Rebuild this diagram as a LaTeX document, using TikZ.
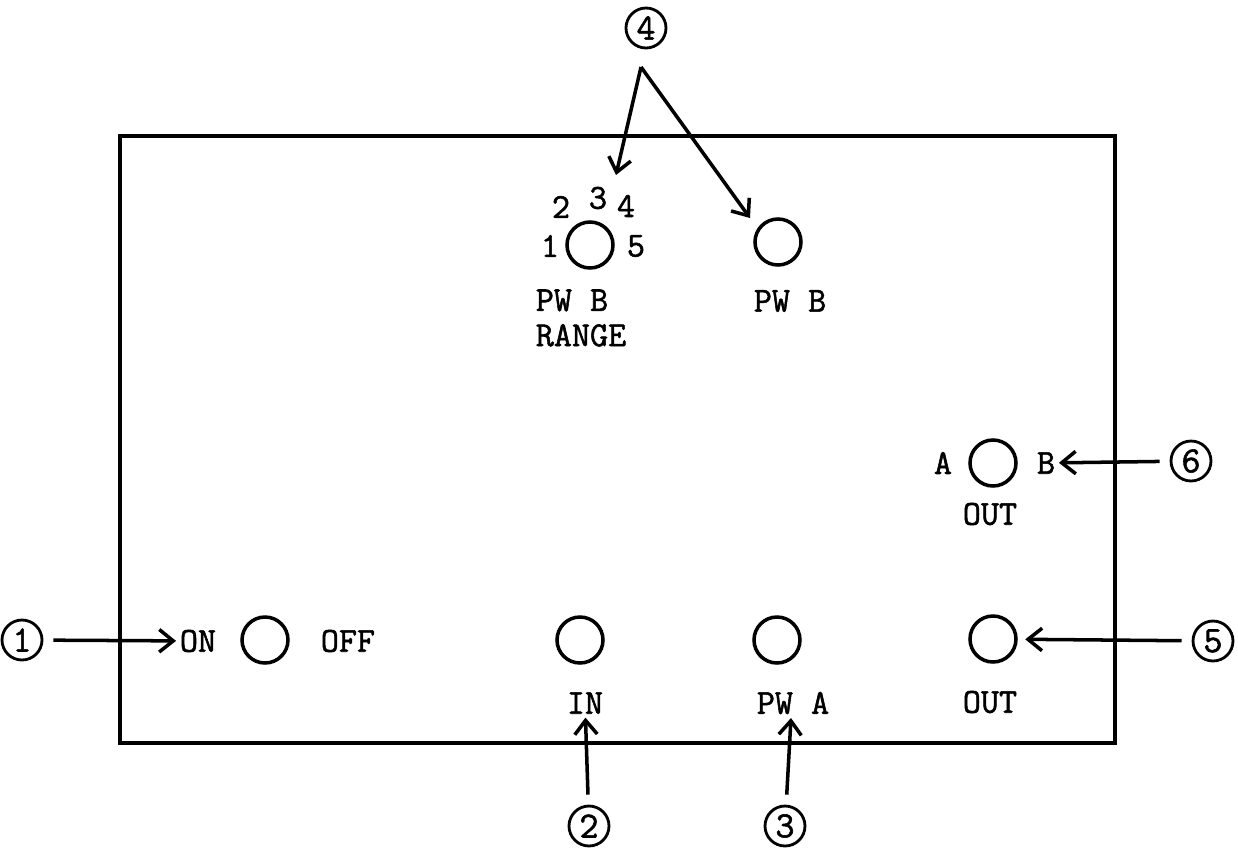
\documentclass[tikz,border=0pt]{standalone}
\usepackage{fontspec}
\setmonofont[FakeBold=1.5]{Latin Modern Mono}
\usetikzlibrary{arrows.meta}

\begin{document}
\begin{tikzpicture}[x=0.02cm, y=-0.02cm,
  every node/.style={font=\fontsize{20}{22}\selectfont\ttfamily, inner sep=2pt},
  knob/.style={circle, draw, line width=2pt, minimum size=0.92cm, inner sep=0pt},
  callout/.style={circle, draw, line width=1.6pt, minimum size=0.8cm, inner sep=0pt,
    font=\fontsize{21}{22}\selectfont\ttfamily},
  arr/.style={-{Straight Barb[length=0.28cm, width=0.45cm, line width=2pt]}, line width=2pt, shorten <=0.2cm}]
\useasboundingbox (0,0) rectangle (1238,853);
% front panel
\draw[line width=2.3pt] (120,136) rectangle (1115,743);
% pulse width B range and fine
\node[knob] (range) at (590,245) {};
\node (n1) at (550,246) {1};
\node (n2) at (561,207) {2};
\node (n3) at (598,198) {3};
\node (n4) at (626,206) {4};
\node (n5) at (636,246) {5};
\node[align=left, font=\fontsize{20}{20}\selectfont\ttfamily] (pwbr) at (581,318) {PW B\\RANGE};
\node[knob] (pwbfine) at (778,242) {};
\node (pwbl) at (790,301) {PW B};
% output select
\node[knob] (sel) at (993,463) {};
\node (sa) at (943,463) {A};
\node (sb) at (1046,463) {B};
\node (selout) at (990,514) {OUT};
% bottom row
\node (on) at (198,641) {ON};
\node[knob] (power) at (265,640) {};
\node (off) at (348,641) {OFF};
\node[knob] (inkn) at (580,640) {};
\node (inl) at (585,703) {IN};
\node[knob] (pwakn) at (777,640) {};
\node (pwal) at (793,703) {PW A};
\node[knob] (outkn) at (993,639) {};
\node (outl) at (990,702) {OUT};
% callouts
\node[callout] (c1) at (22,640) {1};
\node[callout] (c2) at (589,826) {2};
\node[callout] (c3) at (785,826) {3};
\node[callout] (c4) at (646,28) {4};
\node[callout] (c5) at (1213,641) {5};
\node[callout] (c6) at (1191,461) {6};
\coordinate (apex) at (641,67);
\coordinate (rtip) at (616,175);
\coordinate (ftip) at (750,218);
% arrows
\draw[arr] (c1) -- (on);
\draw[arr] (c2) -- (inl);
\draw[arr] (c3) -- (pwal.south west -| 791,0);
\draw[arr, shorten <=0pt] (apex) -- (rtip);
\draw[arr, shorten <=0pt] (apex) -- (ftip);
\draw[arr, shorten >=0.15cm] (c5) -- (outkn);
\draw[arr] (c6) -- (sb);
\end{tikzpicture}
\end{document}
